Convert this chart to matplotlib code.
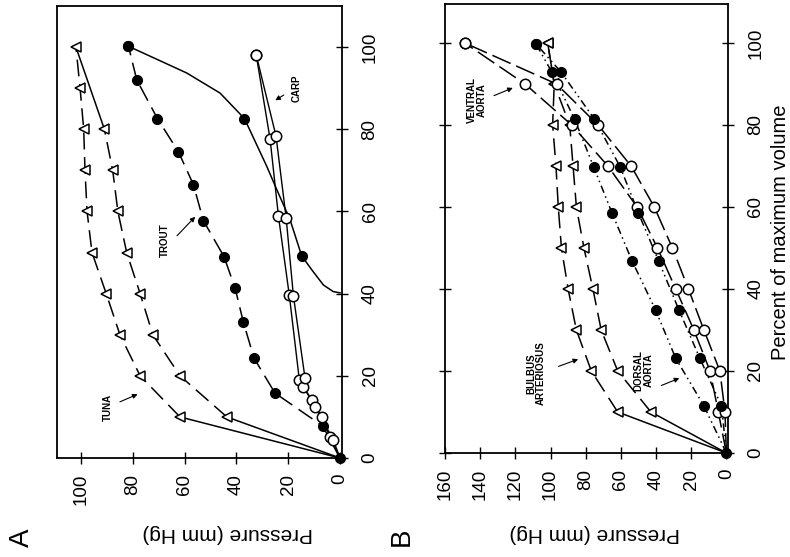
import numpy as np
import matplotlib.pyplot as plt

plt.rcParams['font.family'] = ['Liberation Sans', 'DejaVu Sans']

# ---- A: bulbus arteriosus of three fish (pressure mm Hg vs % of max volume)
tuna_vol = [0, 10, 20, 30, 40, 50, 60, 70, 80, 90, 100]
tuna_p_inf = [0, 61.8, 77.2, 85.0, 90.3, 95.8, 97.7, 98.5, 99.0, 100.4, 102.0]
tuna_vol_def = [0, 10, 20, 30, 40, 50, 60, 70, 80, 100]
tuna_p_def = [0, 43.7, 61.8, 72.3, 77.2, 82.4, 85.8, 87.8, 91.0, 102.0]

trout_vol = [0, 7.8, 15.8, 24.3, 33.0, 41.3, 49.0, 57.8, 66.5, 74.5, 82.6, 92.0, 100.2]
trout_p = [0, 6.7, 25.1, 33.2, 37.3, 40.5, 44.8, 52.8, 56.6, 62.4, 70.5, 78.5, 81.7]
trout_ret_vol = [100.2, 82.6, 49.2]
trout_ret_p = [81.7, 36.9, 14.8]
trout_ret_curve_vol = [100.2, 93.7, 88.8, 82.6, 71.0, 65.3, 58.0, 49.2, 45.8, 42.1, 40.5, 40.2]
trout_ret_curve_p = [81.7, 59.2, 46.3, 36.9, 28.3, 24.4, 19.3, 14.8, 10.9, 6.4, 2.6, 0.0]

carp_vol_1 = [0, 5.2, 10.0, 14.1, 19.0, 39.7, 59.0, 77.6, 98.2]
carp_p_1 = [0, 3.9, 7.0, 10.9, 15.7, 19.6, 23.8, 27.0, 32.4]
carp_vol_2 = [0, 4.4, 12.5, 17.4, 19.4, 39.5, 58.4, 78.3, 98.2]
carp_p_2 = [0, 2.6, 9.6, 14.2, 13.5, 18.0, 20.8, 24.7, 32.4]

# ---- B: bulbus arteriosus, ventral and dorsal aorta
bulbus_vol = [0, 10, 20, 30, 40, 50, 60, 70, 80, 90, 100]
bulbus_p_inf = [0, 61.8, 76.8, 85.3, 90.0, 93.8, 95.6, 96.9, 98.8, 97.9, 101.6]
bulbus_p_def = [0, 42.9, 61.8, 71.2, 75.9, 81.0, 85.3, 87.2, 89.1, 97.9, 101.6]

dorsal_vol = [0, 11.5, 23.1, 34.9, 46.9, 58.6, 69.8, 81.4, 93.0, 99.8]
dorsal_p_inf = [0, 12.8, 28.8, 40.3, 53.7, 65.1, 75.5, 86.3, 99.4, 108.3]
dorsal_p_def = [0, 2.8, 15.1, 27.0, 38.6, 50.1, 60.4, 75.0, 94.2, 108.3]

ventral_vol = [0, 10, 20, 30, 40, 50, 60, 70, 80, 90, 100]
ventral_p_inf = [0, 4.6, 9.3, 18.5, 28.8, 39.2, 50.8, 67.4, 88.0, 114.5, 148.8]
ventral_p_def = [0, 0.8, 3.7, 12.8, 21.6, 30.7, 41.0, 54.2, 73.0, 96.6, 148.8]

vol_ticks = [0, 20, 40, 60, 80, 100]
press_ticks_a = [0, 20, 40, 60, 80, 100]
press_ticks_b = [0, 20, 40, 60, 80, 100, 120, 140, 160]

TRI = dict(marker='<', ms=7.5, mfc='white', mec='black', mew=1.1)
DOT = dict(marker='o', ms=7, mfc='black', mec='black', mew=1.0)
RING = dict(marker='o', ms=7.5, mfc='white', mec='black', mew=1.1)
DASH = (0, (11, 5))
LONGDASH = (0, (13, 4))
DASHDOT = (0, (5, 2.5, 1, 2.5, 1, 2.5))

fig = plt.figure(figsize=(7.9, 5.57), dpi=100)
axA = fig.add_axes([0.0722, 0.1777, 0.3608, 0.8115])
axB = fig.add_axes([0.5633, 0.1867, 0.3582, 0.8061])


def series(ax, p, v, style, ls, solid_start=False, lw=1.1):
    if solid_start:
        ax.plot(p[:2], v[:2], '-', color='black', lw=lw, zorder=2)
        ax.plot(p[1:], v[1:], linestyle=ls, color='black', lw=lw, zorder=2)
    else:
        ax.plot(p, v, linestyle=ls, color='black', lw=lw, zorder=2)
    ax.plot(p[1:], v[1:], linestyle='none', zorder=3, clip_on=False, **style)


# panel A
series(axA, tuna_p_inf, tuna_vol, TRI, DASH, solid_start=True)
series(axA, tuna_p_def[:-1], tuna_vol_def[:-1], TRI, DASH, solid_start=True)
axA.plot(tuna_p_def[-2:], tuna_vol_def[-2:], '-', color='black', lw=1.1, zorder=2)
series(axA, trout_p, trout_vol, DOT, DASH)
axA.plot(trout_ret_curve_p, trout_ret_curve_vol, '-', color='black', lw=1.1, zorder=2)
axA.plot(trout_ret_p, trout_ret_vol, linestyle='none', zorder=3, **DOT)
series(axA, carp_p_1, carp_vol_1, RING, '-', lw=1.0)
series(axA, carp_p_2, carp_vol_2, RING, '-', lw=1.0)
axA.plot([0], [0], linestyle='none', zorder=4, clip_on=False, **DOT)

# panel B
series(axB, bulbus_p_inf, bulbus_vol, TRI, DASH, solid_start=True)
series(axB, bulbus_p_def, bulbus_vol, TRI, DASH, solid_start=True)
series(axB, ventral_p_inf, ventral_vol, RING, LONGDASH)
series(axB, ventral_p_def, ventral_vol, RING, LONGDASH)
series(axB, dorsal_p_inf, dorsal_vol, DOT, DASHDOT)
series(axB, dorsal_p_def, dorsal_vol, DOT, DASHDOT)
axB.plot([0], [0], linestyle='none', zorder=4, clip_on=False, **DOT)

axA.set_xlim(109.3, -0.8)
axA.set_ylim(0, 110)
axB.set_xlim(159.5, -0.9)
axB.set_ylim(0, 109.5)

for ax, pt in ((axA, press_ticks_a), (axB, press_ticks_b)):
    ax.set_xticks(pt)
    ax.set_yticks(vol_ticks)
    ax.yaxis.tick_right()
    ax.tick_params(axis='both', direction='inout', length=8, width=1.0,
                   labelsize=13.5, labelrotation=90, pad=7.5)
    ax.tick_params(axis='y', pad=10)
    for s in ax.spines.values():
        s.set_linewidth(1.3)
axB.tick_params(axis='y', left=True, right=True, labelleft=False, labelright=True)

# labels of the curves
ann = dict(fontsize=7, fontweight='bold', rotation=90, ha='center', va='center',
           linespacing=1.0)
arr = dict(arrowstyle='-|>', lw=0.8, color='black', mutation_scale=7)
axA.text(89.6, 12.4, 'TUNA', **ann)
axA.annotate('', xy=(77.2, 15.8), xytext=(86.0, 13.4), arrowprops=arr)
axA.text(67.6, 53.1, 'TROUT', **ann)
axA.annotate('', xy=(55.2, 59.2), xytext=(63.7, 53.6), arrowprops=arr)
axA.text(16.6, 90.1, 'CARP', **ann)
axA.annotate('', xy=(25.9, 86.7), xytext=(20.8, 88.7), arrowprops=arr)

axB.text(142, 86.1, 'VENTRAL\nAORTA', **ann)
axB.annotate('', xy=(120, 89.3), xytext=(133.6, 86.9), arrowprops=arr)
axB.text(108.2, 19.4, 'BULBUS\nARTERIOSUS', **ann)
axB.annotate('', xy=(82.8, 23.1), xytext=(96.9, 20.9), arrowprops=arr)
axB.text(47, 20.2, 'DORSAL\nAORTA', **ann)
axB.annotate('', xy=(25.3, 18.5), xytext=(38.5, 16.2), arrowprops=arr)

# axis titles and panel letters (figure is laid on its side)
fig.text(228 / 790, 1 - 533 / 557, 'Pressure (mm Hg)', rotation=180,
         ha='center', va='center', fontsize=15)
fig.text(595 / 790, 1 - 533 / 557, 'Pressure (mm Hg)', rotation=180,
         ha='center', va='center', fontsize=15)
fig.text(780 / 790, 1 - 232 / 557, 'Percent of maximum volume', rotation=90,
         ha='center', va='center', fontsize=14.5)
fig.text(22 / 790, 1 - 538 / 557, 'A', rotation=90, ha='center', va='center', fontsize=20)
fig.text(402 / 790, 1 - 537 / 557, 'B', rotation=90, ha='center', va='center', fontsize=20)

for ax in (axA, axB):
    for lab in ax.get_yticklabels():
        lab.set_va('center')

fig.savefig('out.png', dpi=100)
